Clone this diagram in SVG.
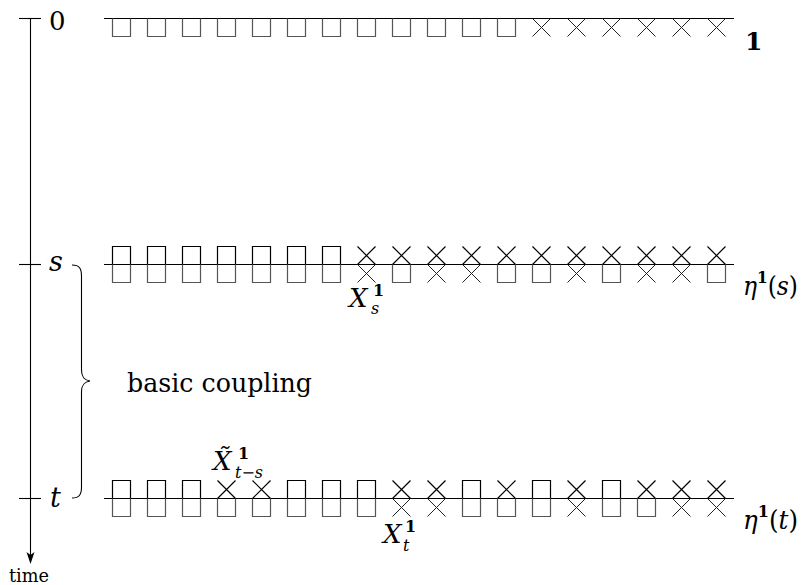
<svg xmlns="http://www.w3.org/2000/svg" xmlns:xlink="http://www.w3.org/1999/xlink" width="802" height="585" viewBox="0 0 802 585">
<style>
.ln{stroke:#000;stroke-width:1.1;fill:none}
.up{stroke:#000;stroke-width:1.2;fill:none}
.lo{stroke:#555;stroke-width:1.2;fill:none}
.lx{stroke:#222;stroke-width:1;fill:none}
.it{font-style:italic}
.bf{font-weight:bold}
</style>
<defs>
<path id="su" class="up" d="M-9,0 V-18 H9 V0"/>
<path id="sl" class="lo" d="M-9,0 V18 H9 V0"/>
<path id="xu" class="up" d="M-9,-18 L9,0 M9,-18 L-9,0"/>
<path id="xl" class="lx" d="M-9,0 L9,18 M9,0 L-9,18"/>
</defs>
<g id="connectors">
<line class="ln" x1="30.5" y1="18.5" x2="30.5" y2="556"/>
<path d="M26.5,552 L30.5,564 L34.5,552 L30.5,555 Z" fill="#000"/>
<line class="ln" x1="19" y1="18.5" x2="41" y2="18.5"/>
<line class="ln" x1="19" y1="264.5" x2="41" y2="264.5"/>
<line class="ln" x1="19" y1="498.5" x2="41" y2="498.5"/>
<path class="ln" d="M72,265 C79,265 81.5,268 81.5,276 L81.5,370 C81.5,377 84,380 90,381 C84,382 81.5,385 81.5,392 L81.5,487 C81.5,495 79,498 72,498"/>
</g>
<g id="row-0">
<line class="ln" x1="104" y1="18.5" x2="734" y2="18.5"/>
<use xlink:href="#sl" x="121.5" y="18.5"/><use xlink:href="#sl" x="156.5" y="18.5"/><use xlink:href="#sl" x="191.5" y="18.5"/><use xlink:href="#sl" x="226.5" y="18.5"/><use xlink:href="#sl" x="261.5" y="18.5"/><use xlink:href="#sl" x="296.5" y="18.5"/><use xlink:href="#sl" x="331.5" y="18.5"/><use xlink:href="#sl" x="366.5" y="18.5"/><use xlink:href="#sl" x="401.5" y="18.5"/><use xlink:href="#sl" x="436.5" y="18.5"/><use xlink:href="#sl" x="471.5" y="18.5"/><use xlink:href="#sl" x="506.5" y="18.5"/>
<use xlink:href="#xl" x="541.5" y="18.5"/><use xlink:href="#xl" x="576.5" y="18.5"/><use xlink:href="#xl" x="611.5" y="18.5"/><use xlink:href="#xl" x="646.5" y="18.5"/><use xlink:href="#xl" x="681.5" y="18.5"/><use xlink:href="#xl" x="716.5" y="18.5"/>
</g>
<g id="row-s">
<line class="ln" x1="104" y1="264.5" x2="734" y2="264.5"/>
<use xlink:href="#su" x="121.5" y="264.5"/><use xlink:href="#su" x="156.5" y="264.5"/><use xlink:href="#su" x="191.5" y="264.5"/><use xlink:href="#su" x="226.5" y="264.5"/><use xlink:href="#su" x="261.5" y="264.5"/><use xlink:href="#su" x="296.5" y="264.5"/><use xlink:href="#su" x="331.5" y="264.5"/>
<use xlink:href="#xu" x="366.5" y="264.5"/><use xlink:href="#xu" x="401.5" y="264.5"/><use xlink:href="#xu" x="436.5" y="264.5"/><use xlink:href="#xu" x="471.5" y="264.5"/><use xlink:href="#xu" x="506.5" y="264.5"/><use xlink:href="#xu" x="541.5" y="264.5"/><use xlink:href="#xu" x="576.5" y="264.5"/><use xlink:href="#xu" x="611.5" y="264.5"/><use xlink:href="#xu" x="646.5" y="264.5"/><use xlink:href="#xu" x="681.5" y="264.5"/><use xlink:href="#xu" x="716.5" y="264.5"/>
<use xlink:href="#sl" x="121.5" y="264.5"/><use xlink:href="#sl" x="156.5" y="264.5"/><use xlink:href="#sl" x="191.5" y="264.5"/><use xlink:href="#sl" x="226.5" y="264.5"/><use xlink:href="#sl" x="261.5" y="264.5"/><use xlink:href="#sl" x="296.5" y="264.5"/><use xlink:href="#sl" x="331.5" y="264.5"/>
<use xlink:href="#xl" x="366.5" y="264.5"/><use xlink:href="#sl" x="401.5" y="264.5"/><use xlink:href="#xl" x="436.5" y="264.5"/><use xlink:href="#xl" x="471.5" y="264.5"/><use xlink:href="#sl" x="506.5" y="264.5"/><use xlink:href="#sl" x="541.5" y="264.5"/><use xlink:href="#xl" x="576.5" y="264.5"/><use xlink:href="#sl" x="611.5" y="264.5"/><use xlink:href="#xl" x="646.5" y="264.5"/><use xlink:href="#xl" x="681.5" y="264.5"/><use xlink:href="#sl" x="716.5" y="264.5"/>
</g>
<g id="row-t">
<line class="ln" x1="104" y1="498.5" x2="734" y2="498.5"/>
<use xlink:href="#su" x="121.5" y="498.5"/><use xlink:href="#su" x="156.5" y="498.5"/><use xlink:href="#su" x="191.5" y="498.5"/><use xlink:href="#xu" x="226.5" y="498.5"/><use xlink:href="#xu" x="261.5" y="498.5"/><use xlink:href="#su" x="296.5" y="498.5"/><use xlink:href="#su" x="331.5" y="498.5"/><use xlink:href="#su" x="366.5" y="498.5"/><use xlink:href="#xu" x="401.5" y="498.5"/><use xlink:href="#xu" x="436.5" y="498.5"/><use xlink:href="#su" x="471.5" y="498.5"/><use xlink:href="#xu" x="506.5" y="498.5"/><use xlink:href="#su" x="541.5" y="498.5"/><use xlink:href="#xu" x="576.5" y="498.5"/><use xlink:href="#su" x="611.5" y="498.5"/><use xlink:href="#xu" x="646.5" y="498.5"/><use xlink:href="#xu" x="681.5" y="498.5"/><use xlink:href="#xu" x="716.5" y="498.5"/>
<use xlink:href="#sl" x="121.5" y="498.5"/><use xlink:href="#sl" x="156.5" y="498.5"/><use xlink:href="#sl" x="191.5" y="498.5"/><use xlink:href="#sl" x="226.5" y="498.5"/><use xlink:href="#sl" x="261.5" y="498.5"/><use xlink:href="#sl" x="296.5" y="498.5"/><use xlink:href="#sl" x="331.5" y="498.5"/><use xlink:href="#sl" x="366.5" y="498.5"/><use xlink:href="#xl" x="401.5" y="498.5"/><use xlink:href="#xl" x="436.5" y="498.5"/><use xlink:href="#sl" x="471.5" y="498.5"/><use xlink:href="#sl" x="506.5" y="498.5"/><use xlink:href="#sl" x="541.5" y="498.5"/><use xlink:href="#xl" x="576.5" y="498.5"/><use xlink:href="#sl" x="611.5" y="498.5"/><use xlink:href="#sl" x="646.5" y="498.5"/><use xlink:href="#xl" x="681.5" y="498.5"/><use xlink:href="#xl" x="716.5" y="498.5"/>
</g>
<g id="labels" font-family="DejaVu Serif, Liberation Serif, serif" fill="#000">
<text x="49" y="30" font-size="26">0</text>
<text class="it" x="49" y="271" font-size="27">s</text>
<text class="it" x="50" y="507" font-size="27">t</text>
<text class="bf" x="745" y="50" font-size="25">1</text>
<text x="743" y="295" font-size="26" textLength="55" lengthAdjust="spacingAndGlyphs"><tspan class="it">η</tspan><tspan class="bf" font-size="17" dy="-12">1</tspan><tspan dy="12">(</tspan><tspan class="it">s</tspan>)</text>
<text x="743" y="529" font-size="26" textLength="55" lengthAdjust="spacingAndGlyphs"><tspan class="it">η</tspan><tspan class="bf" font-size="17" dy="-12">1</tspan><tspan dy="12">(</tspan><tspan class="it">t</tspan>)</text>
<text class="it" x="349" y="307" font-size="26">X</text>
<text class="bf" x="373" y="296" font-size="16">1</text>
<text class="it" x="371" y="314" font-size="16">s</text>
<text class="it" x="383" y="543" font-size="26">X</text>
<text class="bf" x="405" y="532" font-size="16">1</text>
<text class="it" x="403" y="551" font-size="16">t</text>
<text class="it" x="213" y="470" font-size="26">X̃</text>
<text class="bf" x="238" y="459" font-size="16">1</text>
<text class="it" x="235" y="478" font-size="16" textLength="28" lengthAdjust="spacingAndGlyphs">t−s</text>
<text x="127" y="392" font-size="26" textLength="185" lengthAdjust="spacingAndGlyphs">basic coupling</text>
<text x="9" y="582" font-size="18" textLength="40" lengthAdjust="spacingAndGlyphs">time</text>
</g>
</svg>
